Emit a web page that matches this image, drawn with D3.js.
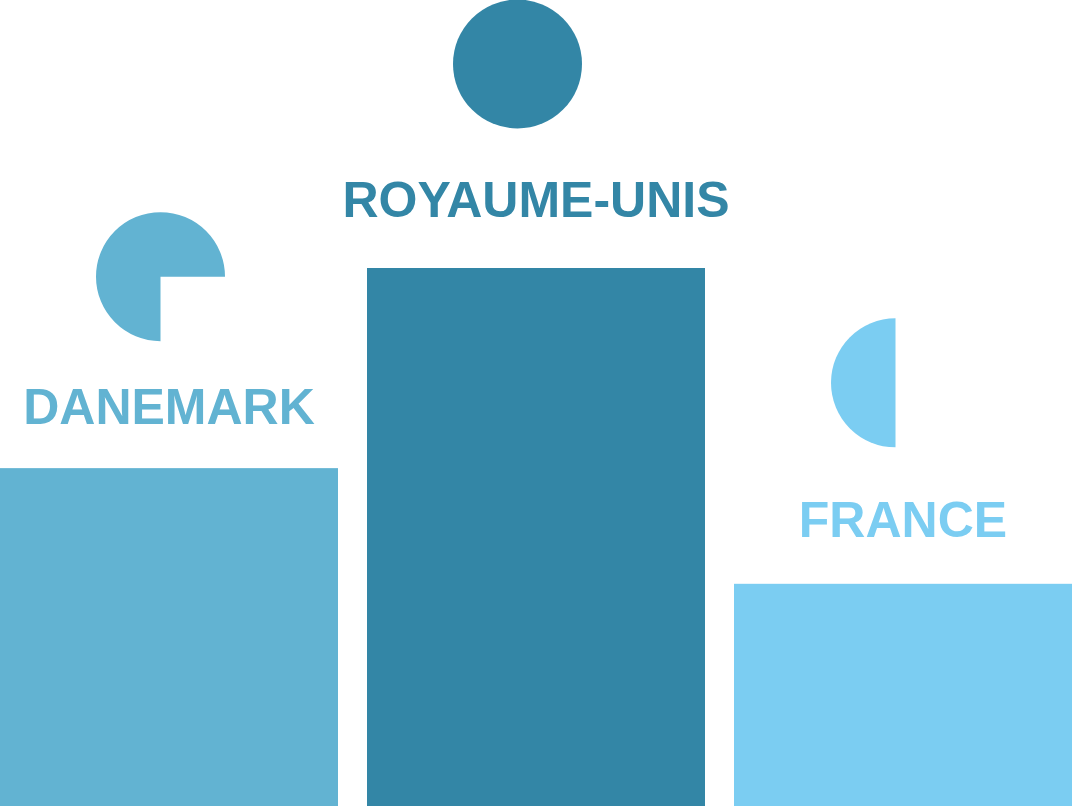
<!DOCTYPE html>
<html>
<head>
<meta charset="utf-8">
<script src="https://cdn.jsdelivr.net/npm/d3@7"></script>
<style>
  html, body { margin: 0; padding: 0; background: #ffffff; }
  svg { display: block; }
</style>
</head>
<body>
<svg id="chart" width="1072" height="806"></svg>
<script>
// ---- data ----
const categories = ["DANEMARK", "ROYAUME-UNIS", "FRANCE"];
const barValues = [62.8, 100, 41.3];       // bar heights (relative)
const pieShares = [0.75, 1.0, 0.5];        // share shown in the pie glyph
const colors = ["#62b3d2", "#3386a6", "#7bcdf2"];

// ---- layout (not data) ----
const W = 1072, H = 806;
const glyphDx = [-8.5, -18.5, -7.5];   // glyph offset from bar centre
const glyphDy = [-191.5, -204, -201];  // glyph centre above bar top
const labelDy = [-44, -51, -47];       // label baseline above bar top
const R = 64.5;

const svg = d3.select("#chart");

const x = d3.scaleBand()
  .domain(categories)
  .range([0, W])
  .paddingInner(29 / 367)
  .paddingOuter(0);

const y = d3.scaleLinear()
  .domain([0, 100])
  .range([H, 268]);

const data = categories.map((c, i) => ({
  cat: c, v: barValues[i], p: pieShares[i], color: colors[i], i
}));

// bars
svg.selectAll("rect.bar")
  .data(data)
  .join("rect")
  .attr("class", "bar")
  .attr("x", d => x(d.cat))
  .attr("y", d => y(d.v))
  .attr("width", x.bandwidth())
  .attr("height", d => H - y(d.v))
  .attr("fill", d => d.color);

// labels
svg.selectAll("text.lbl")
  .data(data)
  .join("text")
  .attr("class", "lbl")
  .attr("x", d => x(d.cat) + x.bandwidth() / 2)
  .attr("y", d => y(d.v) + labelDy[d.i])
  .attr("text-anchor", "middle")
  .attr("font-family", "'Liberation Sans', Arial, Helvetica, sans-serif")
  .attr("font-weight", "bold")
  .attr("font-size", 50)
  .attr("fill", d => d.color)
  .text(d => d.cat);

// pie glyphs
const arc = d3.arc().innerRadius(0).outerRadius(R);
svg.selectAll("path.glyph")
  .data(data)
  .join("path")
  .attr("class", "glyph")
  .attr("transform", d => `translate(${x(d.cat) + x.bandwidth() / 2 + glyphDx[d.i]},${y(d.v) + glyphDy[d.i]})`)
  .attr("d", d => arc({ startAngle: Math.PI, endAngle: Math.PI + d.p * 2 * Math.PI }))
  .attr("fill", d => d.color);
</script>
</body>
</html>
